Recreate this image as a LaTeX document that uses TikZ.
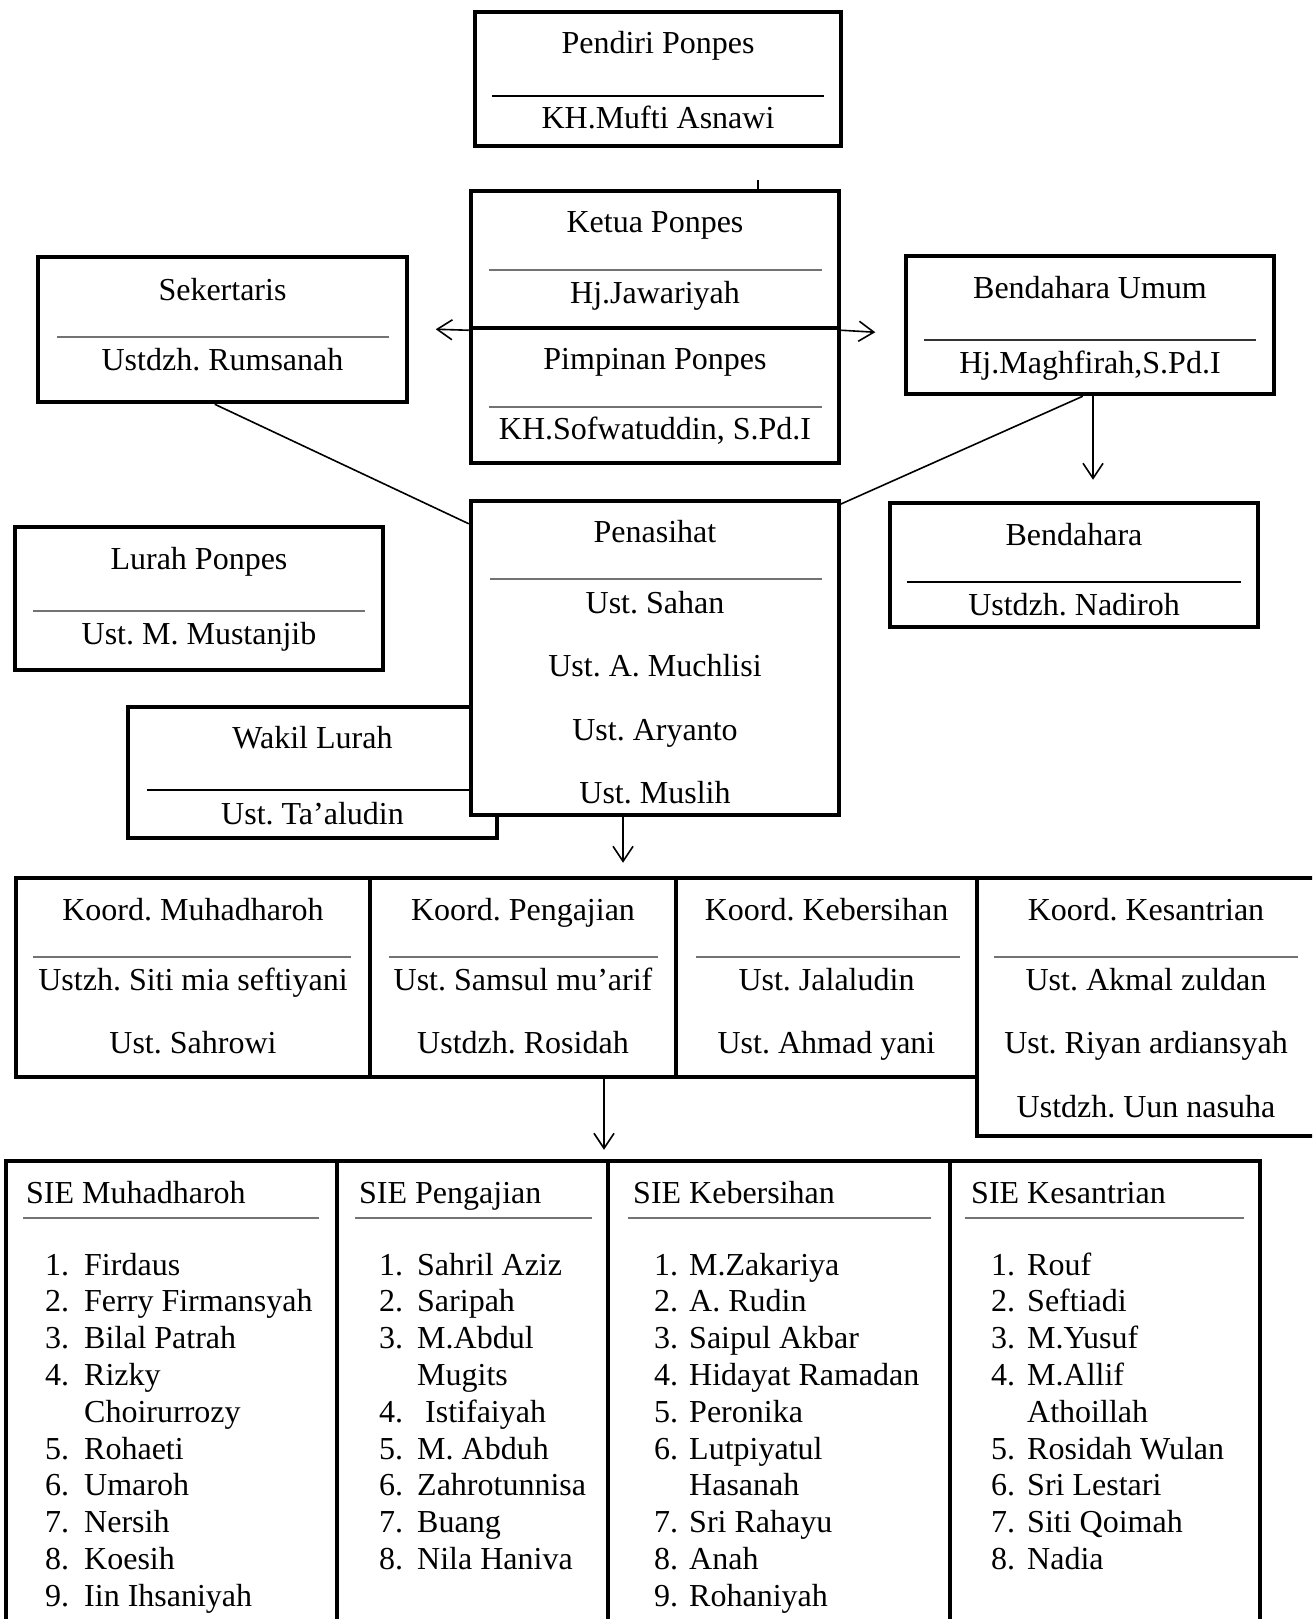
\documentclass[tikz,border=0pt]{standalone}
\usepackage{fontspec}
\setmainfont{Liberation Serif}
\usetikzlibrary{arrows.meta,calc}
\frenchspacing
\tikzset{
  orgbox/.style={draw, line width=4.5pt, fill=white, inner sep=0pt, rectangle},
  lbl/.style={anchor=base, inner sep=0pt, font=\fontsize{32pt}{36.8pt}\selectfont},
  lblw/.style={anchor=base west, inner sep=0pt, font=\fontsize{32pt}{36.8pt}\selectfont},
  grule/.style={line width=1.8pt, draw=black!55},
  brule/.style={line width=1.6pt, draw=black},
  conn/.style={line width=1.6pt},
  arr/.style={line width=1.6pt, -{Straight Barb[length=15pt,width=20pt]}},
}
\begin{document}
\begin{tikzpicture}[x=1pt,y=-1pt]
\useasboundingbox (0,0) rectangle (1312,1619);
\fill[white] (0,0) rectangle (1312,1619);
\clip (0,0) rectangle (1312,1619);

% Pendiri
\node[orgbox, minimum width=366pt, minimum height=134pt] (pendiri) at (658,79) {};
\draw[brule] (492,96) -- (824,96);
\node[lbl] (t-pendiri) at (658,53) {Pendiri Ponpes};
\node[lbl] (n-pendiri) at (658,128) {KH.Mufti Asnawi};

% Ketua / Pimpinan
\node[orgbox, minimum width=368pt, minimum height=137pt] (ketua) at (655,259.5) {};
\node[orgbox, minimum width=368pt, minimum height=135pt] (pimpinan) at (655,395.5) {};
\draw[grule] (489,270) -- (822,270);
\draw[grule] (489,407) -- (822,407);
\node[lbl] (t-ketua) at (655,232) {Ketua Ponpes};
\node[lbl] (n-ketua) at (655,303) {Hj.Jawariyah};
\node[lbl] (t-pimp) at (655,369) {Pimpinan Ponpes};
\node[lbl] (n-pimp) at (655,439) {KH.Sofwatuddin, S.Pd.I};
\draw[conn] ([xshift=103pt]ketua.north) -- ++(0,-9);
\draw[arr] (ketua.south west) -- ([xshift=-33pt,yshift=1pt]ketua.south west);
\draw[arr] (ketua.south east) -- ([xshift=34pt,yshift=-2pt]ketua.south east);

% Sekertaris
\node[orgbox, minimum width=369pt, minimum height=145pt] (sek) at (222.5,329.5) {};
\draw[grule] (57,337) -- (389,337);
\node[lbl] (t-sek) at (222.5,300) {Sekertaris};
\node[lbl] (n-sek) at (222.5,370) {Ustdzh. Rumsanah};

% Bendahara Umum
\node[orgbox, minimum width=368pt, minimum height=138pt] (bu) at (1090,325) {};
\draw[brule, draw=black!80] (924,340) -- (1256,340);
\node[lbl] (t-bu) at (1090,298) {Bendahara Umum};
\node[lbl] (n-bu) at (1090,373) {Hj.Maghfirah,S.Pd.I};

% Bendahara
\node[orgbox, minimum width=368pt, minimum height=124pt] (bend) at (1074,565) {};
\draw[brule] (907,582) -- (1241,582);
\node[lbl] (t-bend) at (1074,545) {Bendahara};
\node[lbl] (n-bend) at (1074,615) {Ustdzh. Nadiroh};

% Lurah
\node[orgbox, minimum width=368pt, minimum height=143pt] (lurah) at (199,598.5) {};
\draw[grule] (33,611) -- (365,611);
\node[lbl] (t-lurah) at (199,569) {Lurah Ponpes};
\node[lbl] (n-lurah) at (199,644) {Ust. M. Mustanjib};

% Wakil Lurah
\node[orgbox, minimum width=369pt, minimum height=131pt] (wakil) at (312.5,772.5) {};
\draw[brule] (147,790) -- (480,790);
\node[lbl] (t-wakil) at (312.5,748) {Wakil Lurah};
\node[lbl] (n-wakil) at (312.5,824) {Ust. Ta’aludin};

% Penasihat
\node[orgbox, minimum width=368pt, minimum height=314pt] (pen) at (655,658) {};
\draw[grule] (490,579) -- (822,579);
\node[lbl] (t-pen) at (655,542) {Penasihat};
\node[lbl] (n-pen1) at (655,613) {Ust. Sahan};
\node[lbl] (n-pen2) at (655,676) {Ust. A. Muchlisi};
\node[lbl] (n-pen3) at (655,740) {Ust. Aryanto};
\node[lbl] (n-pen4) at (655,803) {Ust. Muslih};

% connectors upper part
\draw[conn] ([xshift=179pt]sek.south west) -- ([yshift=-25pt]pen.north west);
\draw[conn] ([xshift=179pt]bu.south west) -- ([xshift=-2pt,yshift=-6pt]pen.north east);
\draw[arr] ([xshift=3pt]bu.south) -- ([xshift=19pt,yshift=21pt]bend.north);

% Koord row
\node[orgbox, minimum width=339pt, minimum height=258pt] (k4) at (1146.5,1007) {};
\node[orgbox, minimum width=354pt, minimum height=199pt] (k1) at (193,977.5) {};
\node[orgbox, minimum width=306pt, minimum height=199pt] (k2) at (523,977.5) {};
\node[orgbox, minimum width=301pt, minimum height=199pt] (k3) at (826.5,977.5) {};
\draw[grule] (33,957) -- (351,957);
\draw[grule] (389,957) -- (658,957);
\draw[grule] (696,957) -- (960,957);
\draw[grule] (994,957) -- (1298,957);
\node[lbl] (t-k1) at (193,920) {Koord. Muhadharoh};
\node[lbl] (a-k1) at (193,990) {Ustzh. Siti mia seftiyani};
\node[lbl] (b-k1) at (193,1053) {Ust. Sahrowi};
\node[lbl] (t-k2) at (523,920) {Koord. Pengajian};
\node[lbl] (a-k2) at (523,990) {Ust. Samsul mu’arif};
\node[lbl] (b-k2) at (523,1053) {Ustdzh. Rosidah};
\node[lbl] (t-k3) at (826.5,920) {Koord. Kebersihan};
\node[lbl] (a-k3) at (826.5,990) {Ust. Jalaludin};
\node[lbl] (b-k3) at (826.5,1053) {Ust. Ahmad yani};
\node[lbl] (t-k4) at (1146,920) {Koord. Kesantrian};
\node[lbl] (a-k4) at (1146,990) {Ust. Akmal zuldan};
\node[lbl] (b-k4) at (1146,1053) {Ust. Riyan ardiansyah};
\node[lbl] (c-k4) at (1146,1117) {Ustdzh. Uun nasuha};

\draw[arr] ([xshift=-32pt]pen.south) -- ([xshift=100pt,yshift=13pt]k2.north);

% SIE row
\node[orgbox, minimum width=331pt, minimum height=499pt] (s1) at (171.5,1410.5) {};
\node[orgbox, minimum width=271pt, minimum height=499pt] (s2) at (472.5,1410.5) {};
\node[orgbox, minimum width=342pt, minimum height=499pt] (s3) at (779,1410.5) {};
\node[orgbox, minimum width=310pt, minimum height=499pt] (s4) at (1105,1410.5) {};
\draw[grule] (23,1218) -- (319,1218);
\draw[grule] (355,1218) -- (592,1218);
\draw[grule] (628,1218) -- (931,1218);
\draw[grule] (965,1218) -- (1244,1218);
\node[lblw] (h-s1) at (26,1203) {SIE Muhadharoh};
\node[lblw] (h-s2) at (359,1203) {SIE Pengajian};
\node[lblw] (h-s3) at (633,1203) {SIE Kebersihan};
\node[lblw] (h-s4) at (971,1203) {SIE Kesantrian};

\draw[arr] ([xshift=81pt]k2.south) -- ([xshift=131.5pt,yshift=9pt]s2.north);

% lists
\foreach \n/\t/\k in {1./Firdaus/0, 2./Ferry Firmansyah/1, 3./Bilal Patrah/2, 4./Rizky/3, {}/Choirurrozy/4, 5./Rohaeti/5, 6./Umaroh/6, 7./Nersih/7, 8./Koesih/8, 9./Iin Ihsaniyah/9}{
  \node[lblw] (na-\k) at (45,1275+36.8*\k) {\n};
  \node[lblw] (ta-\k) at (84,1275+36.8*\k) {\t};
}
\foreach \n/\t/\k in {1./Sahril Aziz/0, 2./Saripah/1, 3./M.Abdul/2, {}/Mugits/3, 5./M. Abduh/5, 6./Zahrotunnisa/6, 7./Buang/7, 8./Nila Haniva/8}{
  \node[lblw] (nb-\k) at (379,1275+36.8*\k) {\n};
  \node[lblw] (tb-\k) at (417,1275+36.8*\k) {\t};
}
\node[lblw] (nb-4) at (379,1275+36.8*4) {4.};
\node[lblw] (tb-4) at (425,1275+36.8*4) {Istifaiyah};
\foreach \n/\t/\k in {1./M.Zakariya/0, 2./A. Rudin/1, 3./Saipul Akbar/2, 4./Hidayat Ramadan/3, 5./Peronika/4, 6./Lutpiyatul/5, {}/Hasanah/6, 7./Sri Rahayu/7, 8./Anah/8, 9./Rohaniyah/9}{
  \node[lblw] (nc-\k) at (654,1275+36.8*\k) {\n};
  \node[lblw] (tc-\k) at (689,1275+36.8*\k) {\t};
}
\foreach \n/\t/\k in {1./Rouf/0, 2./Seftiadi/1, 3./M.Yusuf/2, 4./M.Allif/3, {}/Athoillah/4, 5./Rosidah Wulan/5, 6./Sri Lestari/6, 7./Siti Qoimah/7, 8./Nadia/8}{
  \node[lblw] (nd-\k) at (991,1275+36.8*\k) {\n};
  \node[lblw] (td-\k) at (1027,1275+36.8*\k) {\t};
}
\end{tikzpicture}
\end{document}
